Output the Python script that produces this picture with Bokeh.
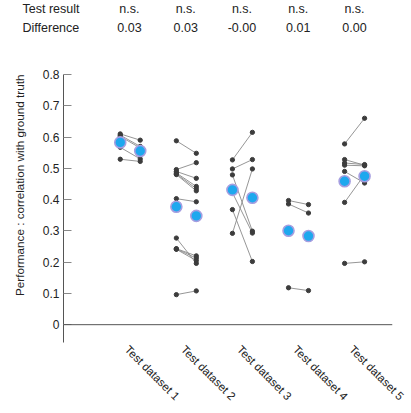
import math
import numpy as np
from bokeh.plotting import figure
from bokeh.layouts import column
from bokeh.models import ColumnDataSource, FixedTicker, Span, Range1d, Title
from bokeh.core.properties import value
from bokeh.embed import file_html
from bokeh.resources import INLINE

# ---- data ----
datasets = ["Test dataset 1", "Test dataset 2", "Test dataset 3", "Test dataset 4", "Test dataset 5"]
header_rows = ["Test result", "Difference"]
test_results = ["n.s.", "n.s.", "n.s.", "n.s.", "n.s."]
differences = ["0.03", "0.03", "-0.00", "0.01", "0.00"]

g1_before = [0.610, 0.606, 0.602, 0.567, 0.529]
g1_after = [0.590, 0.570, 0.565, 0.530, 0.522]
g2_before = [0.588, 0.496, 0.490, 0.485, 0.482, 0.480, 0.403, 0.277, 0.243, 0.242, 0.241, 0.096]
g2_after = [0.548, 0.518, 0.468, 0.442, 0.435, 0.428, 0.393, 0.196, 0.220, 0.213, 0.205, 0.108]
g3_before = [0.527, 0.498, 0.479, 0.422, 0.368, 0.292]
g3_after = [0.615, 0.528, 0.299, 0.293, 0.202, 0.498]
g4_before = [0.397, 0.386, 0.118]
g4_after = [0.384, 0.357, 0.109]
g5_before = [0.578, 0.528, 0.517, 0.510, 0.490, 0.391, 0.196]
g5_after = [0.660, 0.510, 0.512, 0.508, 0.453, 0.480, 0.201]

befores = [g1_before, g2_before, g3_before, g4_before, g5_before]
afters = [g1_after, g2_after, g3_after, g4_after, g5_after]

y_ticks = [0, 0.1, 0.2, 0.3, 0.4, 0.5, 0.6, 0.7, 0.8]

FONT = "Liberation Sans"
TXT = "#222222"
OFF = 0.178          # half distance between paired columns
LABEL_SHIFT = 0.06   # shift of rotated category labels
W, H_HDR, H_MAIN = 411, 40, 373
BL, BR, BT, BB = 62, 19, 34, 71

XS, XE = -0.19, 5.676
groups = list(range(1, len(datasets) + 1))

x0, x1, y0, y1 = [], [], [], []
mx, my = [], []
for c, b, a in zip(groups, befores, afters):
    for vb, va in zip(b, a):
        x0.append(c - OFF); x1.append(c + OFF); y0.append(vb); y1.append(va)
    mx += [c - OFF, c + OFF]
    my += [float(np.mean(b)), float(np.mean(a))]

seg = ColumnDataSource(dict(x0=x0, x1=x1, y0=y0, y1=y1))
means = ColumnDataSource(dict(x=mx, y=my))

# ---- main plot ----
p = figure(width=W, height=H_MAIN, output_backend="svg", toolbar_location=None,
           x_range=Range1d(XS, XE), y_range=Range1d(-0.057, 0.8),
           min_border_left=BL, min_border_right=BR, min_border_top=BT, min_border_bottom=BB)
p.outline_line_color = None
p.xgrid.visible = False
p.ygrid.visible = False

p.segment("x0", "y0", "x1", "y1", source=seg, line_color="#8a8a8a", line_width=0.9)
p.scatter("x0", "y0", source=seg, size=4.3, fill_color="#3c3c3c", line_color="#3c3c3c")
p.scatter("x1", "y1", source=seg, size=4.3, fill_color="#3c3c3c", line_color="#3c3c3c")
p.scatter("x", "y", source=means, size=11, fill_color="#1ea8ee", line_color="#a69ee0", line_width=1.6)

p.add_layout(Span(location=0, dimension="width", line_color="#555555", line_width=1))

ya = p.yaxis[0]
ya.ticker = FixedTicker(ticks=y_ticks)
ya.major_label_overrides = {0: "0"}
ya.minor_tick_line_color = None
ya.major_tick_in = 8
ya.major_tick_out = 0
ya.major_tick_line_color = "#888888"
ya.axis_line_color = "#555555"
ya.major_label_standoff = 4
ya.major_label_text_font = FONT
ya.major_label_text_font_size = "12px"
ya.major_label_text_color = TXT

label_ticks = [c - LABEL_SHIFT for c in groups]
xa = p.xaxis[0]
xa.ticker = FixedTicker(ticks=label_ticks)
xa.major_label_overrides = {t: d for t, d in zip(label_ticks, datasets)}
xa.major_label_orientation = -math.pi / 4
xa.axis_line_color = None
xa.major_tick_line_color = None
xa.minor_tick_line_color = None
xa.major_tick_out = 0
xa.major_tick_in = 0
xa.major_label_standoff = 5
xa.major_label_text_font = FONT
xa.major_label_text_font_size = "11.5px"
xa.major_label_text_color = TXT

p.add_layout(Title(text="Performance : correlation with ground truth", align="right",
                   vertical_align="top",
                   text_font=FONT, text_font_size="11.7px", text_font_style="normal",
                   text_color=TXT, standoff=24), "left")

# ---- header rows (same horizontal mapping as the main plot) ----
px_per_unit = (W - BL - BR) / (XE - XS)
hx0 = XS - BL / px_per_unit
hx1 = XS + (W - BL) / px_per_unit
hdr = figure(width=W, height=H_HDR, output_backend="svg", toolbar_location=None,
             x_range=Range1d(hx0, hx1), y_range=Range1d(0, H_HDR),
             x_axis_type=None, y_axis_type=None,
             min_border_left=0, min_border_right=0, min_border_top=0, min_border_bottom=0)
hdr.outline_line_color = None
hdr.xgrid.visible = False
hdr.ygrid.visible = False

for fig in (hdr, p):
    if "frame_align" in fig.properties():
        fig.frame_align = False

row_y = [32, 13]
row_label_x = XS + (22 - BL) / px_per_unit
hdr.text(x=[row_label_x, row_label_x], y=row_y, text=header_rows, text_font=value(FONT),
         text_font_size="12.5px", text_align="left", text_baseline="middle", text_color=TXT)
hdr.text(x=groups, y=[row_y[0]] * len(groups), text=test_results, text_font=value(FONT),
         text_font_size="12.5px", text_align="center", text_baseline="middle", text_color=TXT)
hdr.text(x=groups, y=[row_y[1]] * len(groups), text=differences, text_font=value(FONT),
         text_font_size="12.5px", text_align="center", text_baseline="middle", text_color=TXT)

layout = column(hdr, p, spacing=0)
open("out.html", "w").write(file_html(layout, INLINE))
